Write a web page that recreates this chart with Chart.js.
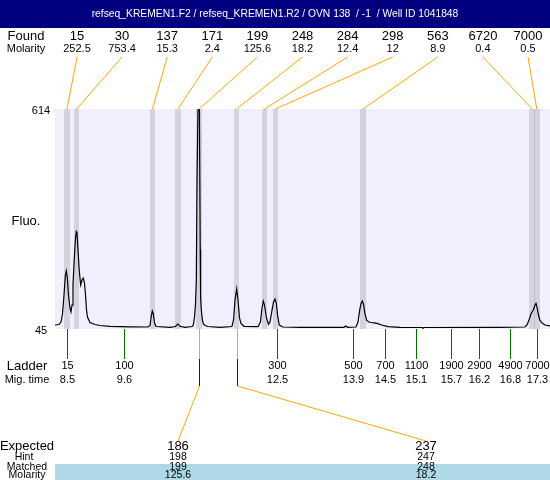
<!DOCTYPE html>
<html><head><meta charset="utf-8">
<script src="https://cdn.jsdelivr.net/npm/chart.js@4.4.1/dist/chart.umd.min.js"></script>
<style>html,body{margin:0;padding:0;background:#fff}#wrap{width:550px;height:480px}</style>
</head><body><div id="wrap"><canvas id="c" width="550" height="480"></canvas></div>
<script>
const titleText = "refseq_KREMEN1.F2 / refseq_KREMEN1.R2 / OVN 138  / -1  / Well ID 1041848";
const traceTimes = [8.306,8.380,8.418,8.446,8.474,8.498,8.517,8.536,8.558,8.586,8.605,8.624,8.642,8.670,8.689,8.704,8.717,8.736,8.758,8.786,8.811,8.835,8.857,8.876,8.895,8.913,8.960,9.054,9.147,9.334,9.708,10.045,10.083,10.107,10.126,10.144,10.167,10.195,10.457,10.560,10.601,10.644,10.737,10.868,10.892,10.915,10.934,10.949,10.962,10.999,11.014,11.022,11.029,11.042,11.061,11.080,11.111,11.168,11.392,11.616,11.645,11.673,11.704,11.729,11.757,11.785,11.841,12.103,12.149,12.178,12.202,12.224,12.262,12.299,12.327,12.365,12.393,12.421,12.445,12.468,12.501,12.570,12.888,13.711,13.743,13.777,13.936,13.973,14.005,14.029,14.054,14.076,14.104,14.136,14.179,14.217,14.273,14.329,14.417,14.534,14.759,15.171,15.189,15.208,16.630,17.097,17.135,17.172,17.209,17.252,17.284,17.303,17.325,17.350,17.374,17.410,17.471,17.565];
const traceFluo = [55.3,56.6,63,83.8,133,182,195,177,133,99.3,89,107,158.8,236,280,296.7,293,249,197.6,158.8,171.7,177,164,133,94,76,61.8,56.6,54,52,50.7,50.2,54,78.6,91.6,85,60.5,51.5,49.4,51.5,57.9,52,49.4,51.5,55,75,110,170,430,800,450,250,130,95,70,58,54,51.5,49.4,51.5,68.3,120,148.5,120,73.5,59.2,52,51,63,99.3,117.4,107,73.5,57.2,63,94,115,122.6,112.2,81.2,55.3,50.2,49.4,49.4,52.8,49.4,50.2,63,94,110.4,117.4,109.6,83.8,67,63,61.8,61,59.7,55.3,51,49.4,48.9,47.6,48.9,49.4,50.2,55.3,68.3,83.8,94,107,111.5,99.3,81.2,68.3,61.3,55.3,52.8];
const foundSizes = [15,30,137,171,199,248,284,298,563,6720,7000];
const foundMolarity = ["252.5","753.4","15.3","2.4","125.6","18.2","12.4","12","8.9","0.4","0.5"];
const foundTimes = [8.530,8.708,10.129,10.606,11.003,11.701,12.224,12.430,14.067,17.232,17.318];
const ladderSizes = [15,100,300,500,700,1100,1900,2900,4900,7000];
const ladderTimes = [8.536,9.602,12.464,13.885,14.473,15.053,15.719,16.231,16.822,17.316];
const expectedSizes = [186,237];
const hintSizes = [198,247];
const matchedSizes = [199,248];
const matchedMolarity = ["125.6","18.2"];
const matchedTimes = [11.003,11.701];
const yTicks = [45,614];

const FONT = '"Liberation Sans", Arial, sans-serif';
function txt(ctx, s, x, y, size, color, align) {
  ctx.save();
  ctx.font = size + 'px ' + FONT;
  ctx.fillStyle = color || '#000';
  ctx.textAlign = align || 'center';
  ctx.textBaseline = 'middle';
  ctx.fillText(String(s), x, y);
  ctx.restore();
}
function line(ctx, x1, y1, x2, y2, color) {
  ctx.save();
  ctx.strokeStyle = color; ctx.lineWidth = 1;
  ctx.beginPath(); ctx.moveTo(x1, y1); ctx.lineTo(x2, y2); ctx.stroke();
  ctx.restore();
}
function vline(ctx, x, y1, y2, color) {
  ctx.save();
  ctx.fillStyle = color;
  ctx.fillRect(Math.round(x), Math.round(y1), 1, Math.round(y2) - Math.round(y1));
  ctx.restore();
}

const deco = {
  id: 'deco',
  beforeDatasetsDraw(chart) {
    const {ctx, chartArea: a, scales: {x}} = chart;
    ctx.save();
    ctx.fillStyle = '#fff';
    ctx.fillRect(0, 0, chart.width, chart.height);
    ctx.fillStyle = '#EFEFFD';
    ctx.fillRect(a.left, a.top, a.right - a.left, a.bottom - a.top);
    ctx.fillStyle = 'rgba(127,127,135,0.25)';
    foundTimes.forEach(t => {
      const l = x.getPixelForValue(t - 0.052), r = x.getPixelForValue(t + 0.052);
      ctx.fillRect(Math.round(l), a.top, Math.round(r) - Math.round(l), a.bottom - a.top);
    });
    ctx.restore();
  },
  afterDatasetsDraw(chart) {
    const {ctx, chartArea: a, scales: {x, y}} = chart;
    ctx.save();
    ctx.fillStyle = '#000080';
    ctx.fillRect(0, 0, chart.width, 28);
    ctx.restore();
    txt(ctx, titleText, 275, 14, 10.3, '#fff');
    txt(ctx, 'Found', 26, 36, 13);
    txt(ctx, 'Molarity', 26, 49, 11);
    foundSizes.forEach((s, i) => {
      const cx = 77 + i * 45.1;
      txt(ctx, s, cx, 36, 13);
      txt(ctx, foundMolarity[i], cx, 49, 11);
      line(ctx, cx, 57, x.getPixelForValue(foundTimes[i]), a.top, '#FFA500');
    });
    yTicks.forEach(v => txt(ctx, v, 41, y.getPixelForValue(v) + 1.5, 11));
    txt(ctx, 'Fluo.', 26, 221, 13);
    txt(ctx, 'Ladder', 27, 366, 13);
    txt(ctx, 'Mig. time', 27, 380, 11);
    ladderSizes.forEach((s, i) => {
      const lx = x.getPixelForValue(ladderTimes[i]);
      vline(ctx, lx, a.bottom, 359, '#007000');
      txt(ctx, s, Math.round(lx) + 0.5, 366, 11);
      txt(ctx, ladderTimes[i].toFixed(1), Math.round(lx) + 0.5, 380, 11);
    });
    ctx.save();
    ctx.fillStyle = '#ADD8E6';
    ctx.fillRect(55, 464, 495, 16);
    ctx.restore();
    txt(ctx, 'Expected', 27, 446.5, 13);
    txt(ctx, 'Hint', 24, 457.5, 10.5);
    txt(ctx, 'Matched', 27, 467.5, 10.5);
    txt(ctx, 'Molarity', 27, 475.5, 10.5);
    const expX = [178, 426];
    matchedTimes.forEach((t, i) => {
      const mx = x.getPixelForValue(t);
      const cx = Math.round(mx) + 0.5;
      vline(ctx, mx, a.bottom, 359, '#FFA500');
      vline(ctx, mx, 359, 386, '#0000FF');
      line(ctx, cx, 386, expX[i], 441, '#FFA500');
      txt(ctx, expectedSizes[i], expX[i], 446.5, 13);
      txt(ctx, hintSizes[i], expX[i], 457.5, 10.5);
      txt(ctx, matchedSizes[i], expX[i], 467.5, 10.5);
      txt(ctx, matchedMolarity[i], expX[i], 475.5, 10.5);
    });
  }
};

new Chart(document.getElementById('c').getContext('2d'), {
  type: 'line',
  data: { datasets: [{
    data: traceTimes.map((t, i) => ({x: t, y: traceFluo[i]})),
    borderColor: '#000', borderWidth: 1.2, pointRadius: 0, tension: 0, fill: false
  }]},
  options: {
    responsive: false, animation: false, events: [],
    layout: { padding: { left: 55, right: 0, top: 109, bottom: 151 } },
    scales: {
      x: { type: 'linear', min: 8.3055, max: 17.565, display: false },
      y: { type: 'linear', min: 45, max: 614, display: false }
    },
    plugins: { legend: { display: false }, tooltip: { enabled: false } }
  },
  plugins: [deco]
});
</script></body></html>
